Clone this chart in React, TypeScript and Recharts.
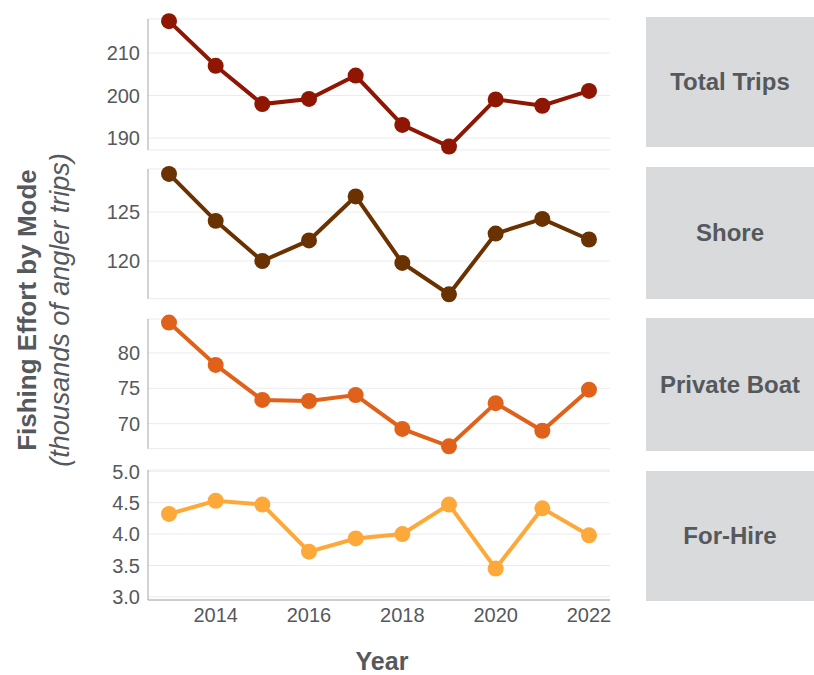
import { LineChart, Line, XAxis, YAxis, CartesianGrid } from 'recharts';

const years = [2013, 2014, 2015, 2016, 2017, 2018, 2019, 2020, 2021, 2022];
const totalTrips = [217.5, 207.0, 198.0, 199.2, 204.7, 193.1, 188.0, 199.1, 197.6, 201.1];
const shore = [128.9, 124.1, 120.0, 122.1, 126.6, 119.8, 116.6, 122.8, 124.3, 122.2];
const privateBoat = [84.3, 78.3, 73.35, 73.2, 74.05, 69.25, 66.8, 72.9, 69.0, 74.8];
const forHire = [4.32, 4.53, 4.47, 3.72, 3.93, 4.0, 4.47, 3.45, 4.41, 3.98];

const modeNames = ['Total Trips', 'Shore', 'Private Boat', 'For-Hire'];
const yearTicks = [2014, 2016, 2018, 2020, 2022];

const textColor = '#55595d';
const font = '"Liberation Sans", Arial, sans-serif';

const panels = [
  { name: modeNames[0], values: totalTrips, color: '#8e1603', domain: [187.2, 218.0], ticks: [190, 200, 210], top: 19, h: 131, strip: [17, 130] },
  { name: modeNames[1], values: shore, color: '#6a3200', domain: [116.15, 129.4], ticks: [120, 125], top: 169.3, h: 129.7, strip: [167, 132] },
  { name: modeNames[2], values: privateBoat, color: '#df611a', domain: [66.46, 84.8], ticks: [70, 75, 80], top: 319.3, h: 129.7, strip: [318, 133] },
  { name: modeNames[3], values: forHire, color: '#fda93a', domain: [2.95, 5.02], ticks: [3, 3.5, 4, 4.5, 5], top: 470, h: 130, strip: [471, 130] },
];

const M_TOP = 10;
const X_AXIS_H = 40;

function Panel({ p, last }: { p: (typeof panels)[number]; last: boolean }) {
  const data = years.map((year, i) => ({ year, value: p.values[i] }));
  const height = p.h + M_TOP + (last ? X_AXIS_H : 10);
  return (
    <div style={{ position: 'absolute', left: 0, top: p.top - M_TOP }}>
      <LineChart
        width={614}
        height={height}
        data={data}
        margin={{ top: M_TOP, right: 4, bottom: last ? 0 : 10, left: 0 }}
        style={{ overflow: 'visible' }}
      >
        <CartesianGrid vertical={false} stroke="#ebebeb" strokeWidth={1} />
        <XAxis
          dataKey="year"
          type="number"
          domain={[2012.55, 2022.45]}
          ticks={yearTicks}
          hide={!last}
          height={X_AXIS_H}
          tickLine={false}
          axisLine={{ stroke: '#a6a6a6' }}
          tick={{ fill: textColor, fontSize: 20, fontFamily: font }}
        />
        <YAxis
          type="number"
          domain={p.domain}
          ticks={p.ticks}
          width={148}
          tickLine={false}
          axisLine={{ stroke: '#a6a6a6' }}
          tickFormatter={(v: number) => (last ? v.toFixed(1) : String(v))}
          tick={{ fill: textColor, fontSize: 20, fontFamily: font }}
        />
        <Line
          dataKey="value"
          stroke={p.color}
          strokeWidth={4}
          dot={{ r: 8, fill: p.color, stroke: 'none' }}
          isAnimationActive={false}
        />
      </LineChart>
    </div>
  );
}

export default function App() {
  return (
    <div
      style={{
        position: 'absolute',
        left: 0,
        top: 0,
        width: 814,
        height: 675,
        background: '#fff',
        fontFamily: font,
        color: textColor,
        overflow: 'hidden',
      }}
    >
      {panels.map((p, i) => (
        <Panel key={p.name} p={p} last={i === panels.length - 1} />
      ))}

      {panels.map((p) => (
        <div
          key={'strip-' + p.name}
          style={{
            position: 'absolute',
            left: 646,
            width: 168,
            top: p.strip[0],
            height: p.strip[1],
            background: '#d9dadc',
            display: 'flex',
            alignItems: 'center',
            justifyContent: 'center',
            fontWeight: 'bold',
            fontSize: 24,
          }}
        >
          {p.name}
        </div>
      ))}

      {/* y title, two lines rotated */}
      <div
        style={{
          position: 'absolute',
          left: 44,
          top: 310,
          transform: 'translate(-50%, -50%) rotate(-90deg)',
          whiteSpace: 'nowrap',
          textAlign: 'center',
          lineHeight: '33px',
        }}
      >
        <div style={{ fontWeight: 'bold', fontSize: 26 }}>Fishing Effort by Mode</div>
        <div style={{ fontStyle: 'italic', fontSize: 27 }}>(thousands of angler trips)</div>
      </div>

      <div
        style={{
          position: 'absolute',
          left: 382,
          top: 661,
          transform: 'translate(-50%, -50%)',
          fontWeight: 'bold',
          fontSize: 25,
        }}
      >
        Year
      </div>
    </div>
  );
}
